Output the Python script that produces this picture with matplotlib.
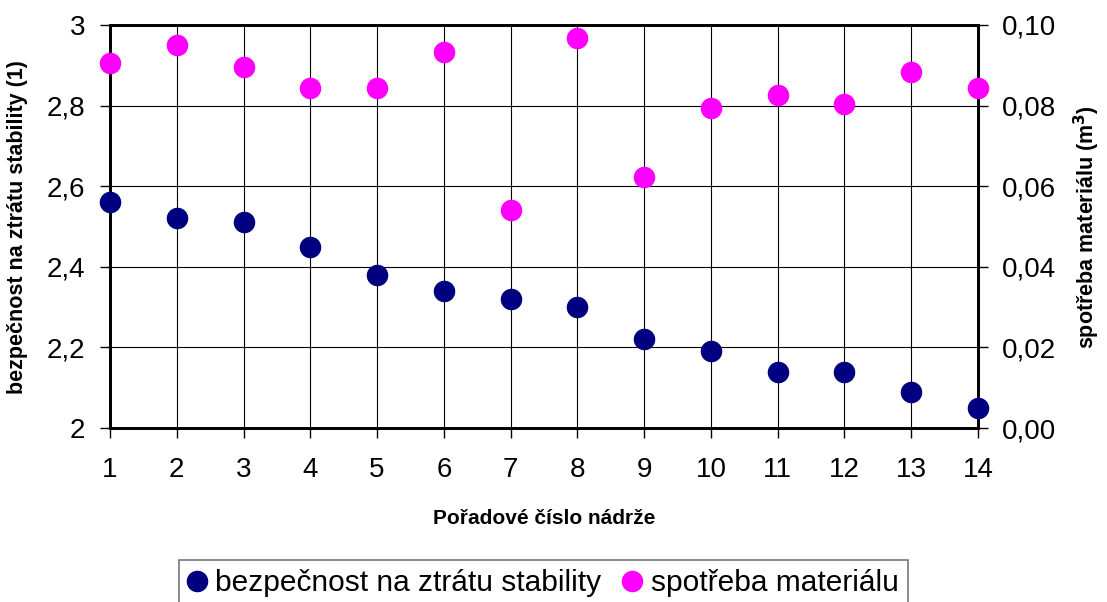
import matplotlib
matplotlib.use("Agg")
import matplotlib.pyplot as plt
from matplotlib.ticker import FixedLocator, FuncFormatter

plt.rcParams['font.family'] = ['Liberation Sans', 'DejaVu Sans']

# Tank order numbers
tanks = list(range(1, 15))
# Safety factor against loss of stability (left axis)
safety = [2.56, 2.52, 2.51, 2.45, 2.38, 2.34, 2.32, 2.30, 2.22, 2.19, 2.14, 2.14, 2.09, 2.05]
# Material consumption in m3 (right axis)
material = [0.0906, 0.0950, 0.0896, 0.0844, 0.0844, 0.0933, 0.0541, 0.0968,
            0.0623, 0.0794, 0.0826, 0.0804, 0.0883, 0.0844]

left_ticks = [2.0, 2.2, 2.4, 2.6, 2.8, 3.0]
right_ticks = [0.00, 0.02, 0.04, 0.06, 0.08, 0.10]

navy = '#000080'
magenta = '#FF00FF'
W, H = 1107, 602

fig = plt.figure(figsize=(W / 100, H / 100), dpi=100)
ax = fig.add_axes([110 / W, 1 - 428 / H, (978 - 110) / W, (428 - 25) / H])
ax2 = ax.twinx()

ax.set_xlim(1, 14)
ax.set_ylim(2, 3)
ax2.set_ylim(0, 0.10)

ax.xaxis.set_major_locator(FixedLocator(tanks))
ax.yaxis.set_major_locator(FixedLocator(left_ticks))
ax2.yaxis.set_major_locator(FixedLocator(right_ticks))
ax.grid(True, color='black', linewidth=0.8)
ax.set_axisbelow(True)

# both series drawn on the top axes so they sit above the grid;
# the safety factor is plotted through the left axis transform
ax2.plot(tanks, material, linestyle='none', marker='o',
         markersize=14.5, color=magenta, clip_on=False, zorder=3)
ax2.plot(tanks, safety, linestyle='none', marker='o', markersize=14.5,
         color=navy, clip_on=False, zorder=3,
         transform=ax.transData)


def left_fmt(v, pos):
    txt = f"{v:.1f}"
    if txt.endswith('.0'):
        txt = txt[:-2]
    return txt.replace('.', ',')


def right_fmt(v, pos):
    return f"{v:.2f}".replace('.', ',')


ax.yaxis.set_major_formatter(FuncFormatter(left_fmt))
ax2.yaxis.set_major_formatter(FuncFormatter(right_fmt))

for a in (ax, ax2):
    for sp in a.spines.values():
        sp.set_linewidth(2)
        sp.set_color('black')
    a.tick_params(axis='both', labelsize=20, length=7.2, width=1, color='black',
                  direction='out')
ax.tick_params(axis='y', pad=10.5)
ax2.tick_params(axis='y', pad=10)
ax.tick_params(axis='x', pad=14)

fig.text(544 / W, 1 - 518 / H, 'Pořadové číslo nádrže', fontsize=15,
         fontweight='bold', ha='center', va='center')
fig.text(18 / W, 1 - 227 / H, 'bezpečnost na ztrátu stability (1)', fontsize=15.5,
         fontweight='bold', rotation=90, ha='center', va='center')
fig.text(1087 / W, 1 - 227 / H, 'spotřeba materiálu (m$^\\mathbf{3}$)', fontsize=15.5,
         fontweight='bold', rotation=90, ha='center', va='center')

h1, = ax.plot([], [], linestyle='none', marker='o', markersize=14.5, color=navy)
h2, = ax.plot([], [], linestyle='none', marker='o', markersize=14.5, color=magenta)
leg = fig.legend([h1, h2], ['bezpečnost na ztrátu stability', 'spotřeba materiálu'],
                 loc='upper center', bbox_to_anchor=(543.5 / W, 1 - 560 / H),
                 ncol=2, fontsize=21.5, frameon=True, fancybox=False,
                 edgecolor='#555555', handlelength=0.55, handletextpad=0.35,
                 columnspacing=0.75, borderpad=0.3, borderaxespad=0)
leg.get_frame().set_linewidth(1.2)

fig.savefig('out.png', dpi=100)
